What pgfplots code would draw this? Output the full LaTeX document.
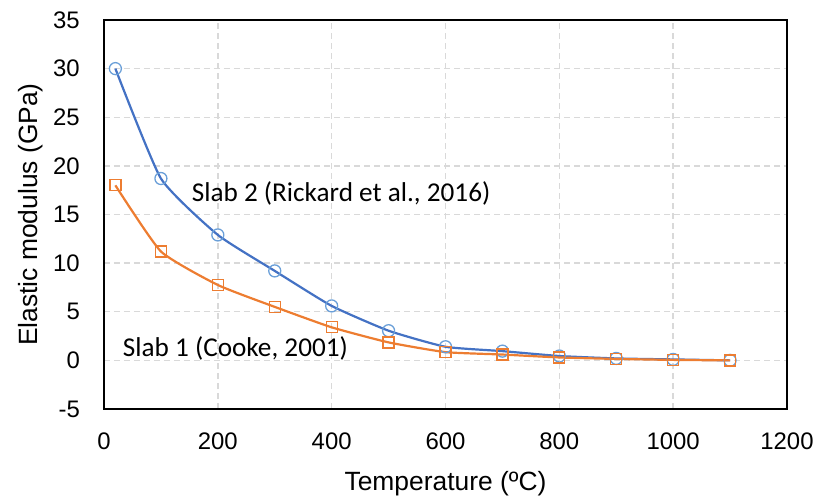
\documentclass[border=0pt]{standalone}
\usepackage{pgfplots}
\pgfplotsset{compat=1.18}
\usepackage{fontspec}
\setmainfont{Liberation Sans}
\newfontfamily\calibri{Carlito}

\definecolor{lineblue}{HTML}{4472C4}
\definecolor{markblue}{HTML}{6A9FD8}
\definecolor{lineorange}{HTML}{ED7D31}
\definecolor{gridgray}{HTML}{D9D9D9}

\begin{document}
\begin{tikzpicture}
\begin{axis}[
  scale only axis,
  width=683bp, height=389bp,
  xmin=0, xmax=1200, ymin=-5, ymax=35,
  xtick={0,200,...,1200},
  ytick={-5,0,...,35},
  major tick length=0pt,
  grid=major,
  major grid style={gridgray, line width=1.4bp, dash pattern=on 6bp off 4bp},
  axis line style={black, line width=2bp},
  /pgf/number format/assume math mode=true,
  /pgf/number format/1000 sep={},
  tick label style={font=\fontsize{24}{28}\selectfont, inner sep=0pt},
  xticklabel style={anchor=north, yshift=-24bp},
  yticklabel style={anchor=east, xshift=-24bp},
  xlabel={Temperature (ºC)},
  ylabel={Elastic modulus (GPa)},
  label style={font=\fontsize{26.5}{30}\selectfont, inner sep=0pt},
  xlabel style={at={([yshift=-81bp]axis description cs:0.5,0)}, anchor=base},
  ylabel style={at={([xshift=-66bp]axis description cs:0,0.5)}, anchor=base},
  clip=false,
]
% Slab 2 (Rickard et al., 2016)
\addplot[lineblue, line width=2.2bp, smooth, tension=0.3, mark=o,
  mark size=6bp, mark options={markblue, line width=1.3bp, fill=none}]
  coordinates {(20,30) (100,18.7) (200,12.9) (300,9.2) (400,5.6) (500,3.05)
    (600,1.4) (700,0.95) (800,0.45) (900,0.2) (1000,0.1) (1100,0)};
% Slab 1 (Cooke, 2001)
\addplot[lineorange, line width=2.2bp, smooth, tension=0.3, mark=square,
  mark size=5.5bp, mark options={lineorange, line width=1.3bp, fill=none}]
  coordinates {(20,18) (100,11.2) (200,7.75) (300,5.5) (400,3.4) (500,1.85)
    (600,0.85) (700,0.6) (800,0.3) (900,0.15) (1000,0.05) (1100,0)};
\node[anchor=base west, inner sep=0pt, font=\calibri\fontsize{27.3}{31}\selectfont]
  at (axis cs:154,16.3) {Slab 2 (Rickard et al., 2016)};
\node[anchor=base west, inner sep=0pt, font=\calibri\fontsize{27.3}{31}\selectfont]
  at (axis cs:33,0.38) {Slab 1 (Cooke, 2001)};
\coordinate (ll) at (rel axis cs:0,0);
\coordinate (ur) at (rel axis cs:1,1);
\end{axis}
\pgfresetboundingbox
\path ([xshift=-104bp,yshift=-90bp]ll) rectangle ([xshift=37bp,yshift=20bp]ur);
\end{tikzpicture}
\end{document}
